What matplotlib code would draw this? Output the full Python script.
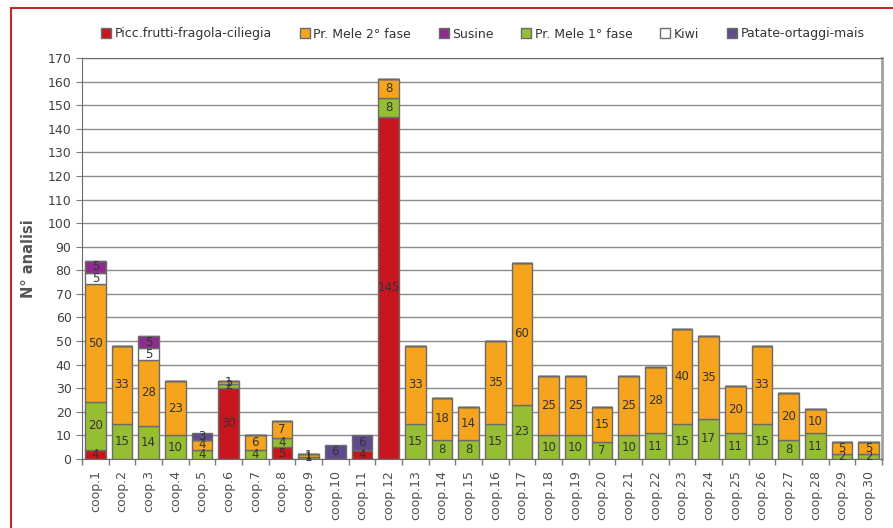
import numpy as np
import matplotlib.pyplot as plt
from matplotlib.patches import Rectangle

# dati: numero di analisi per cooperativa
coop = ['coop.%d' % i for i in range(1, 31)]
picc = [4, 0, 0, 0, 0, 30, 0, 5, 0, 0, 4, 145, 0, 0, 0, 0, 0, 0, 0, 0, 0, 0, 0, 0, 0, 0, 0, 0, 0, 0]
mele1 = [20, 15, 14, 10, 4, 2, 4, 4, 1, 0, 0, 8, 15, 8, 8, 15, 23, 10, 10, 7, 10, 11, 15, 17, 11, 15, 8, 11, 2, 2]
mele2 = [50, 33, 28, 23, 4, 1, 6, 7, 1, 0, 0, 8, 33, 18, 14, 35, 60, 25, 25, 15, 25, 28, 40, 35, 20, 33, 20, 10, 5, 5]
kiwi = [5, 0, 5, 0, 0, 0, 0, 0, 0, 0, 0, 0, 0, 0, 0, 0, 0, 0, 0, 0, 0, 0, 0, 0, 0, 0, 0, 0, 0, 0]
susine = [5, 0, 5, 0, 0, 0, 0, 0, 0, 0, 0, 0, 0, 0, 0, 0, 0, 0, 0, 0, 0, 0, 0, 0, 0, 0, 0, 0, 0, 0]
patate = [0, 0, 0, 0, 3, 0, 0, 0, 0, 6, 6, 0, 0, 0, 0, 0, 0, 0, 0, 0, 0, 0, 0, 0, 0, 0, 0, 0, 0, 0]

# ordine di impilamento (dal basso)
serie = [
    ('Picc.frutti-fragola-ciliegia', picc, '#C8161E'),
    ('Pr. Mele 1° fase', mele1, '#96BE33'),
    ('Pr. Mele 2° fase', mele2, '#F6A31D'),
    ('Kiwi', kiwi, '#FFFFFF'),
    ('Susine', susine, '#8E2C8E'),
    ('Patate-ortaggi-mais', patate, '#5F4B8B'),
]
ordine_legenda = ['Picc.frutti-fragola-ciliegia', 'Pr. Mele 2° fase', 'Susine',
                  'Pr. Mele 1° fase', 'Kiwi', 'Patate-ortaggi-mais']

fig = plt.figure(figsize=(8.93, 5.28), dpi=100)
ax = fig.add_axes([82/893, 1-459/528, 800/893, 401/528])

x = np.arange(len(coop))
base = np.zeros(len(coop))
barre = {}
for nome, val, col in serie:
    val = np.array(val, dtype=float)
    b = ax.bar(x, val, bottom=base, width=0.78, color=col, edgecolor='#6b6b6b',
               linewidth=1.0, label=nome, zorder=3)
    barre[nome] = b
    for xi, v, y0 in zip(x, val, base):
        if v > 0:
            ax.text(xi, y0 + v/2, '%d' % v, ha='center', va='center',
                    fontsize=8.5, color='#333333', zorder=4)
    base += val

ax.set_xlim(-0.5, len(coop) - 0.5)
ax.set_ylim(0, 170)
ax.set_yticks(range(0, 171, 10))
ax.yaxis.grid(True, color='#8c8c8c', linewidth=1.0, zorder=0)
ax.set_axisbelow(True)

ax.set_xticks(x)
ax.set_xticklabels(coop, rotation=90, fontsize=9, color='#505050')
ax.set_xticks(np.arange(-0.5, len(coop), 1), minor=True)
ax.tick_params(axis='x', which='major', length=0, pad=8)
ax.tick_params(axis='x', which='minor', length=4, color='#7a7a7a', width=1)
ax.tick_params(axis='y', labelsize=9, labelcolor='#404040', length=4, color='#7a7a7a')

for s in ['left', 'bottom', 'top']:
    ax.spines[s].set_color('#6b6b6b')
ax.spines['right'].set_color('#a0a0a0')
ax.spines['right'].set_linewidth(2)

ax.set_ylabel('N° analisi', fontsize=10.5, fontweight='bold', color='#555555')
ax.yaxis.set_label_coords(-(82 - 36)/800, 0.5)

handles = [barre[n] for n in ordine_legenda]
fig.legend(handles, ordine_legenda, loc='center', bbox_to_anchor=(483/893, 1-34/528),
           ncol=6, frameon=False, fontsize=9, handlelength=0.8, handleheight=0.8,
           handletextpad=0.3, columnspacing=2.2, labelcolor='#333333')

# cornice rossa
fig.patches.append(Rectangle((11/893, -0.1), 1.2, 1.1 - 8/528, transform=fig.transFigure,
                             fill=False, edgecolor='#C0282D', linewidth=1.5))

fig.savefig('out.png', dpi=100)
